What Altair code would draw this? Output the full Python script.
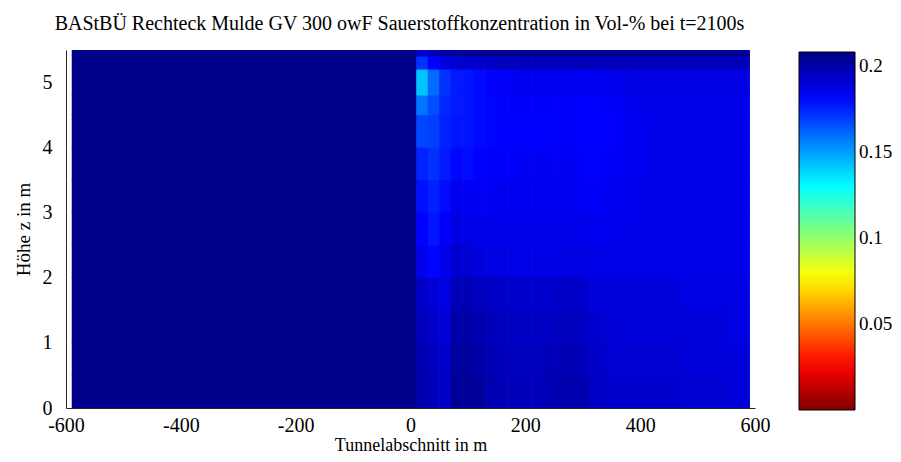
import altair as alt
import pandas as pd

# grid edges (m)
x_edges = [-590] + list(range(10, 591, 20))
z_edges = [0, 0.5, 1, 1.5, 2, 2.5, 3, 3.5, 4, 4.5, 4.8, 5.2, 5.4, 5.5]

left_block = 0.206  # value of the undisturbed zone x < 10 m

# O2 concentration (Vol-%) per row (bottom -> top), columns x = 10..590 in 20 m steps
r0 = [0.199,0.196,0.193,0.203,0.203,0.202,0.198,0.197,0.196,0.196,0.196,0.197,0.198,0.199,0.198,0.194,0.193,0.192,0.192,0.192,0.192,0.192,0.192,0.191,0.191,0.191,0.191,0.190,0.190]
r1 = [0.198,0.195,0.192,0.202,0.202,0.200,0.197,0.196,0.195,0.195,0.195,0.196,0.197,0.197,0.196,0.193,0.192,0.191,0.191,0.191,0.191,0.191,0.191,0.190,0.190,0.190,0.190,0.189,0.189]
r2 = [0.196,0.193,0.190,0.200,0.200,0.198,0.196,0.195,0.194,0.194,0.194,0.194,0.195,0.195,0.194,0.192,0.191,0.190,0.190,0.190,0.190,0.190,0.190,0.189,0.189,0.189,0.189,0.188,0.188]
r3 = [0.193,0.190,0.188,0.197,0.197,0.195,0.194,0.193,0.192,0.192,0.192,0.192,0.193,0.193,0.192,0.190,0.190,0.189,0.189,0.189,0.189,0.189,0.189,0.188,0.188,0.188,0.188,0.188,0.187]
r4 = [0.186,0.181,0.186,0.192,0.191,0.189,0.188,0.188,0.187,0.187,0.187,0.187,0.188,0.188,0.188,0.187,0.187,0.187,0.187,0.187,0.187,0.187,0.187,0.187,0.187,0.187,0.187,0.187,0.186]
r5 = [0.182,0.178,0.183,0.188,0.187,0.186,0.186,0.186,0.186,0.186,0.186,0.186,0.186,0.186,0.186,0.185,0.185,0.186,0.186,0.186,0.186,0.187,0.187,0.187,0.187,0.187,0.187,0.186,0.186]
r6 = [0.179,0.175,0.180,0.185,0.184,0.184,0.184,0.185,0.185,0.185,0.185,0.185,0.185,0.185,0.184,0.183,0.184,0.185,0.185,0.186,0.186,0.186,0.186,0.186,0.186,0.186,0.186,0.186,0.186]
r7 = [0.175,0.172,0.177,0.181,0.180,0.182,0.183,0.183,0.183,0.184,0.184,0.184,0.184,0.184,0.183,0.182,0.183,0.184,0.185,0.185,0.186,0.186,0.186,0.186,0.186,0.186,0.186,0.186,0.186]
r8 = [0.168,0.169,0.175,0.178,0.178,0.180,0.181,0.182,0.182,0.182,0.182,0.182,0.183,0.183,0.182,0.182,0.182,0.183,0.184,0.185,0.186,0.186,0.186,0.186,0.186,0.186,0.186,0.186,0.186]
r9 = [0.158,0.166,0.174,0.177,0.178,0.180,0.181,0.182,0.183,0.183,0.183,0.183,0.183,0.183,0.182,0.182,0.183,0.184,0.185,0.186,0.186,0.186,0.186,0.186,0.186,0.186,0.186,0.186,0.186]
r10 = [0.142,0.160,0.172,0.177,0.178,0.180,0.182,0.183,0.184,0.185,0.185,0.185,0.185,0.185,0.184,0.184,0.185,0.186,0.187,0.188,0.188,0.188,0.188,0.188,0.188,0.188,0.188,0.188,0.188]
r11 = [0.172,0.182,0.188,0.191,0.192,0.193,0.194,0.195,0.195,0.196,0.196,0.196,0.196,0.196,0.196,0.196,0.196,0.196,0.196,0.196,0.196,0.196,0.196,0.196,0.196,0.196,0.196,0.196,0.196]
r12 = [0.192,0.198,0.201,0.202,0.203,0.204,0.204,0.204,0.204,0.204,0.204,0.204,0.204,0.204,0.204,0.204,0.204,0.204,0.204,0.204,0.204,0.204,0.204,0.204,0.204,0.204,0.204,0.204,0.204]
rows = [r0, r1, r2, r3, r4, r5, r6, r7, r8, r9, r10, r11, r12]

# colour scale (jet, reversed: high O2 = dark blue)
c_domain = [0.0, 0.026, 0.078, 0.13, 0.182, 0.208]
c_range = ["#800000", "#ff0000", "#ffff00", "#00ffff", "#0000ff", "#000080"]
legend_values = [0.05, 0.1, 0.15, 0.2]
x_ticks = [-600, -400, -200, 0, 200, 400, 600]
z_ticks = [0, 1, 2, 3, 4, 5]

recs = []
for i, row in enumerate(rows):
    vals = [left_block] + row
    for j, v in enumerate(vals):
        recs.append({"x": x_edges[j], "x2": x_edges[j + 1],
                     "z": z_edges[i], "z2": z_edges[i + 1], "v": v})
df = pd.DataFrame(recs)

FONT = "Liberation Serif"
scale = alt.Scale(domain=c_domain, range=c_range, interpolate="rgb")

chart = alt.Chart(df).transform_calculate(
    # slight overlap of neighbouring cells to avoid anti-aliasing seams
    x2o="datum.x2 + 1.2", z2o="datum.z2 + 0.015"
).mark_rect(clip=True).encode(
    x=alt.X("x:Q", scale=alt.Scale(domain=[-600, 600], nice=False, zero=False),
            axis=alt.Axis(title="Tunnelabschnitt in m", values=x_ticks,
                          ticks=False, grid=False, labelPadding=7, titlePadding=1,
                          titleFontSize=18, labelFlush=False,
                          labelExpr="datum.value < 0 ? '-' + abs(datum.value) : '' + datum.value")),
    x2="x2o:Q",
    y=alt.Y("z:Q", scale=alt.Scale(domain=[0, 5.5], nice=False),
            axis=alt.Axis(title="Höhe z in m", values=z_ticks, ticks=False,
                          grid=False, labelPadding=14, titlePadding=9, labelFlush=False)),
    y2="z2o:Q",
    color=alt.Color("v:Q", scale=scale,
                    legend=alt.Legend(type="gradient", title=None, orient="none",
                                      legendX=733, legendY=2,
                                      direction="vertical", gradientLength=358,
                                      gradientThickness=56, values=legend_values,
                                      format="~g", gradientStrokeColor="#000000",
                                      gradientStrokeWidth=1, labelFont=FONT,
                                      labelFontSize=19, labelColor="#000000",
                                      labelOffset=4)),
).properties(
    width=689, height=358,
    title=alt.TitleParams("BAStBÜ Rechteck Mulde GV 300 owF Sauerstoffkonzentration in Vol-% bei t=2100s",
                          font=FONT, fontSize=20, fontWeight="normal", color="#000000",
                          anchor="middle", offset=16, dx=-11),
    autosize=alt.AutoSizeParams(type="none"),
    padding={"left": 58, "top": 42, "right": 138, "bottom": 46},
).configure_view(stroke=None).configure_axis(
    labelFont=FONT, labelFontSize=20, labelColor="#000000",
    titleFont=FONT, titleFontSize=19, titleColor="#000000", titleFontWeight="normal",
    domainColor="#262626", domainWidth=1,
)

chart.save("out.html", embed_options={"renderer": "svg", "actions": False})
